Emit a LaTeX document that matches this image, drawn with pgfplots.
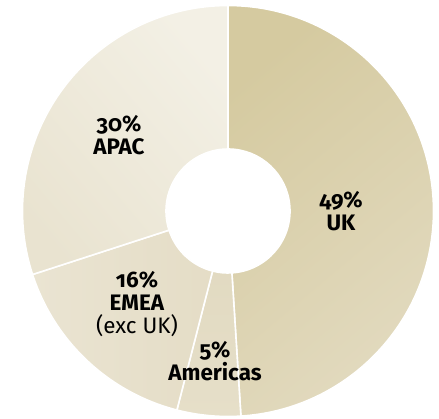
\documentclass[border=0pt]{standalone}
\usepackage{pgfplots}
\pgfplotsset{compat=1.18}
\usepackage{pgfplotstable}
\usepackage{fontspec}
\setmainfont{Fira Sans}[Numbers=OldStyle]

\definecolor{ukTop}{HTML}{D5CAA0}
\definecolor{ukBot}{HTML}{E2DABF}
\definecolor{amTop}{HTML}{E0D8BE}
\definecolor{amBot}{HTML}{E6DFC9}
\definecolor{emTop}{HTML}{E4DCC5}
\definecolor{emBot}{HTML}{EAE4D2}
\definecolor{apTop}{HTML}{F3F0E5}
\definecolor{apBot}{HTML}{E9E3D0}

\pgfplotstableread{
region value
UK 49
Americas 5
EMEA 16
APAC 30
}\shares

\newcommand{\getshare}[2]{\pgfplotstablegetelem{#1}{value}\of\shares\edef#2{\pgfplotsretval}}

% one ring segment, centre (228,206), outer r 205.5, inner r 62
\newcommand{\donutslice}[3]{%
  \path[#3, draw=white, line width=1.6bp]
    (axis cs:228,206) ++(#1:205.5bp)
    arc[start angle=#1, end angle=#2, radius=205.5bp]
    -- ++({#2+180}:143.5bp)
    arc[start angle=#2, end angle=#1, radius=62bp] -- cycle;}

\begin{document}
\begin{tikzpicture}
\getshare{0}{\vUK}
\getshare{1}{\vAm}
\getshare{2}{\vEM}
\getshare{3}{\vAP}
\pgfmathsetmacro\aUK{90-3.6*\vUK}
\pgfmathsetmacro\aAm{\aUK-3.6*\vAm}
\pgfmathsetmacro\aEM{\aAm-3.6*\vEM}
\pgfmathsetmacro\aAP{\aEM-3.6*\vAP}
\begin{axis}[
  scale only axis,
  width=439bp, height=417bp,
  xmin=0, xmax=439, ymin=0, ymax=417,
  axis line style={draw=none},
  ticks=none,
  clip=false,
]
\donutslice{90}{\aUK}{top color=ukTop, bottom color=ukBot, shading angle=40}
\donutslice{\aUK}{\aAm}{top color=amTop, bottom color=amBot}
\donutslice{\aAm}{\aEM}{top color=emBot, bottom color=emTop, shading angle=90}
\donutslice{\aEM}{\aAP}{top color=apTop, bottom color=apBot, shading angle=-50}

\node[font=\bfseries\fontsize{22.5}{23}\selectfont, align=center] at (axis cs:341,206) {49\%\\UK};
\node[font=\bfseries\fontsize{22.5}{23}\selectfont, align=center] at (axis cs:119,282) {30\%\\APAC};
\node[font=\fontsize{22.5}{23}\selectfont, align=center] at (axis cs:137,113) {\textbf{16\%}\\\textbf{EMEA}\\(exc UK)};
\node[font=\bfseries\fontsize{22.5}{23}\selectfont, align=center] at (axis cs:215,56) {5\%\\Americas};
\end{axis}
\end{tikzpicture}
\end{document}
